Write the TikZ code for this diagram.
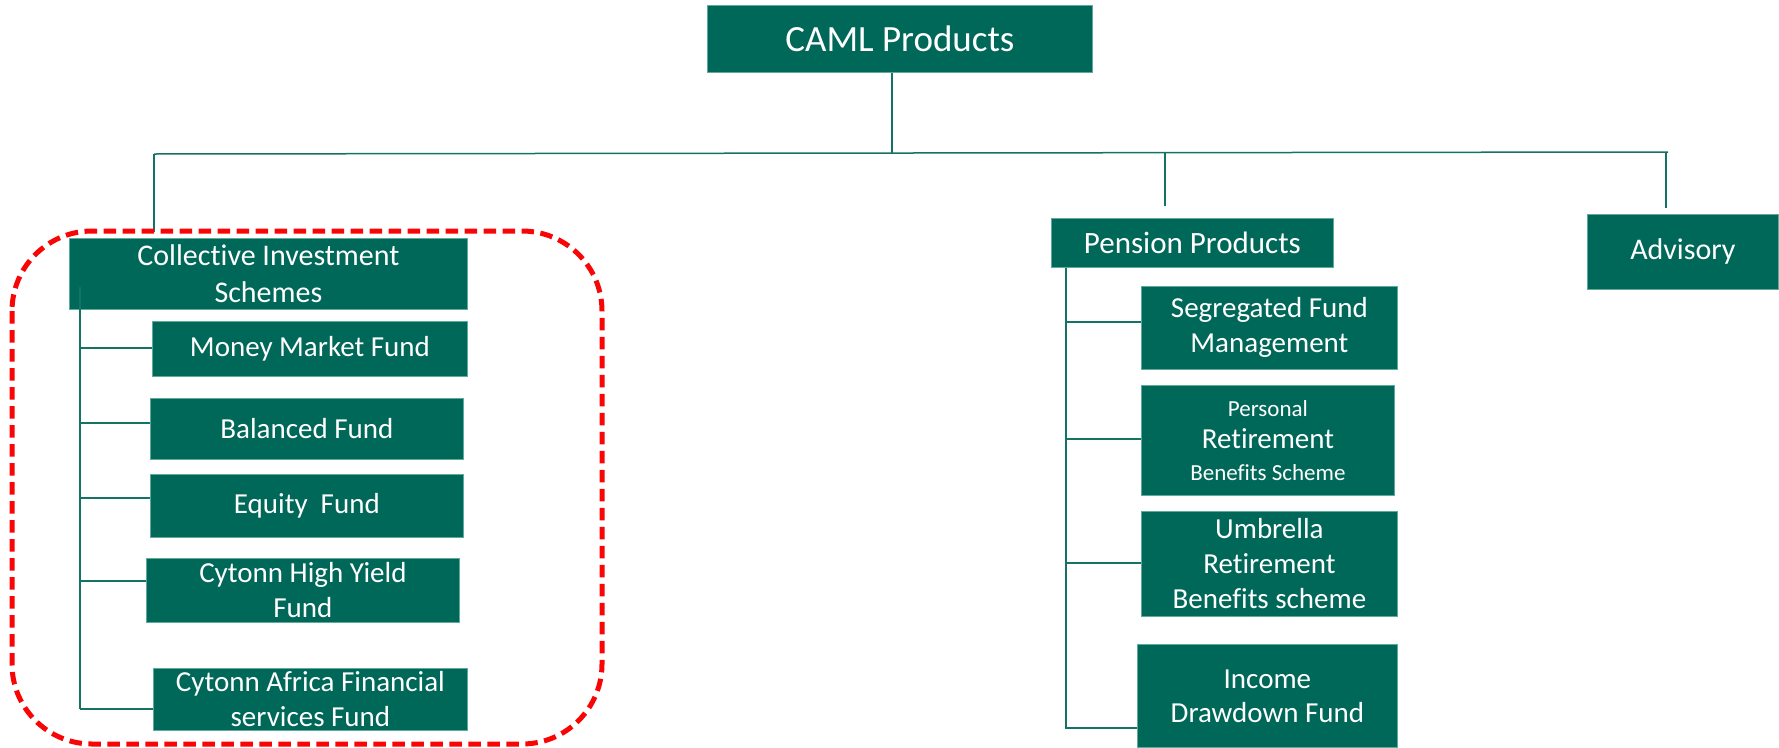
\documentclass[tikz,border=0pt]{standalone}
\usepackage{fontspec}
\setmainfont{Carlito}[Ligatures=NoCommon]
\definecolor{boxfill}{RGB}{0,104,89}
\definecolor{boxedge}{RGB}{95,170,155}
\definecolor{wirecol}{RGB}{20,115,100}
\definecolor{dashred}{RGB}{250,5,5}
\tikzset{
  box/.style={draw=boxedge, line width=0.8pt, fill=boxfill, text=white, inner sep=0pt,
    anchor=north west, align=center, font=\fontsize{29}{35}\selectfont},
  wire/.style={draw=wirecol, line width=1.5pt},
  groupframe/.style={draw=dashred, line width=5pt, dash pattern=on 12.5pt off 6.5pt, rounded corners=80pt}
}
\begin{document}
\begin{tikzpicture}[x=1pt,y=-1pt]
\useasboundingbox (0,0) rectangle (1779,747);
% boxes
\node[box, minimum width=385pt, minimum height=67pt, font=\fontsize{37}{44}\selectfont] (caml) at (707,5) {CAML Products};
\node[box, minimum width=398pt, minimum height=71pt, font=\fontsize{30}{37}\selectfont] (cis) at (69,238) {Collective Investment\\Schemes};
\node[box, minimum width=315pt, minimum height=55pt] (mm) at (152,321) {Money Market Fund};
\node[box, minimum width=313pt, minimum height=61pt] (bal) at (150,398) {Balanced Fund};
\node[box, minimum width=313pt, minimum height=63pt] (eq) at (150,474) {Equity\ \ Fund};
\node[box, minimum width=313pt, minimum height=64pt] (hy) at (146,558) {Cytonn High Yield\\Fund};
\node[box, minimum width=314pt, minimum height=62pt] (afr) at (153,668) {Cytonn Africa Financial\\services Fund};
\node[box, minimum width=282pt, minimum height=49pt, font=\fontsize{31}{37}\selectfont] (pen) at (1051,218) {Pension Products};
\node[box, minimum width=256pt, minimum height=83pt] (seg) at (1141,286) {Segregated Fund\\Management};
\node[box, minimum width=253pt, minimum height=110pt, font=\fontsize{29}{32}\selectfont] (per) at (1141,385) {{\fontsize{23}{28}\selectfont Personal}\\Retirement\\{\fontsize{23}{28}\selectfont Benefits Scheme}};
\node[box, minimum width=256pt, minimum height=105pt] (umb) at (1141,511) {Umbrella\\Retirement\\Benefits scheme};
\node[box, minimum width=260pt, minimum height=103pt, font=\fontsize{29}{34}\selectfont] (inc) at (1137,644) {Income\\Drawdown Fund};
\node[box, minimum width=191pt, minimum height=75pt, font=\fontsize{30}{36}\selectfont] (adv) at (1587,214) {Advisory};
% bus
\coordinate (busL) at (154,154);
\coordinate (busR) at (1668,152);
\coordinate (busM) at (892,153);
\coordinate (busP) at (1165,153);
\coordinate (cisTop) at (154,232);
\coordinate (penTop) at (1165,206);
\coordinate (advTop) at (1666,208);
\draw[wire] (caml.south -| busM) -- (busM);
\draw[wire] (busL) -- (busR);
\draw[wire] (busL) -- (cisTop);
\draw[wire] (busP) -- (penTop);
\draw[wire] (1666,152.5) -- (advTop);
% left trunk
\coordinate (lt0) at (80,287);
\coordinate (lt1) at (80,709);
\draw[wire] (lt0) -- (lt1);
\foreach \n/\y in {mm/348, bal/423, eq/498, hy/581, afr/709}{
  \draw[wire] (80,\y) -- (\n.west |- 0,\y);
}
% pension trunk
\coordinate (pt1) at (1066,729);
\draw[wire] (pen.south -| pt1) -- (pt1);
\foreach \n/\y in {seg/322, per/439, umb/563, inc/728}{
  \draw[wire] (1066,\y) -- (\n.west |- 0,\y);
}
% dashed group frame
\draw[groupframe] (12,231) rectangle (602,744);
\end{tikzpicture}
\end{document}
